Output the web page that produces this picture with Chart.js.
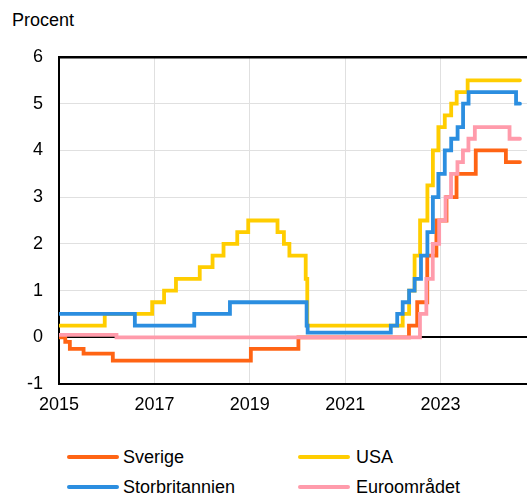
<!DOCTYPE html>
<html>
<head>
<meta charset="utf-8">
<script src="https://cdn.jsdelivr.net/npm/chart.js@4"></script>
<style>
  html, body { margin: 0; padding: 0; background: #fff; overflow: hidden; width: 527px; height: 493px; }
  body { position: relative; font-family: "Liberation Sans", Arial, sans-serif; color: #000; }
  #wrap { position: absolute; left: 0; top: 0; width: 536px; height: 430px; }
  .lbl { position: absolute; font-size: 18px; line-height: 18px; white-space: nowrap; }
  .swatch { position: absolute; width: 52px; height: 4px; border-radius: 2px; }
</style>
</head>
<body>
<div class="lbl" style="left:12px; top:11px;">Procent</div>
<div id="wrap"><canvas id="chart" width="536" height="430"></canvas></div>

<div class="swatch" style="left:67px; top:455px; background:#ff6414;"></div>
<div class="lbl" style="left:123px; top:448px;">Sverige</div>
<div class="swatch" style="left:298px; top:455px; background:#ffcd00;"></div>
<div class="lbl" style="left:356px; top:448px;">USA</div>
<div class="swatch" style="left:67px; top:485px; background:#2b8ee0;"></div>
<div class="lbl" style="left:123px; top:478px;">Storbritannien</div>
<div class="swatch" style="left:298px; top:485px; background:#ff9bab;"></div>
<div class="lbl" style="left:356px; top:478px;">Euroområdet</div>

<script>
// policy rates, date of change and new level (percent)
const sverigeDates = ["2015-01-01", "2015-02-18", "2015-03-25", "2015-07-08", "2016-02-17", "2019-01-09",
  "2020-01-08", "2022-05-04", "2022-07-06", "2022-09-21", "2022-11-30", "2023-02-15", "2023-05-03",
  "2023-09-27", "2024-05-15", "2024-08-31"];
const sverigeRates = [0, -0.1, -0.25, -0.35, -0.5, -0.25, 0, 0.25, 0.75, 1.75, 2.5, 3, 3.5, 4, 3.75, 3.75];

const usaDates = ["2015-01-01", "2015-12-17", "2016-12-15", "2017-03-16", "2017-06-15", "2017-12-14",
  "2018-03-22", "2018-06-14", "2018-09-27", "2018-12-20", "2019-08-01", "2019-09-19", "2019-10-31",
  "2020-03-04", "2020-03-16", "2022-03-17", "2022-05-05", "2022-06-16", "2022-07-28", "2022-09-22",
  "2022-11-03", "2022-12-15", "2023-02-02", "2023-03-23", "2023-05-04", "2023-07-27", "2024-08-31"];
const usaRates = [0.25, 0.5, 0.75, 1, 1.25, 1.5, 1.75, 2, 2.25, 2.5, 2.25, 2, 1.75, 1.25, 0.25,
  0.5, 1, 1.75, 2.5, 3.25, 4, 4.5, 4.75, 5, 5.25, 5.5, 5.5];

const ukDates = ["2015-01-01", "2016-08-04", "2017-11-02", "2018-08-02", "2020-03-11", "2020-03-19",
  "2021-12-16", "2022-02-03", "2022-03-17", "2022-05-05", "2022-06-16", "2022-08-04", "2022-09-22",
  "2022-11-03", "2022-12-15", "2023-02-02", "2023-03-23", "2023-05-11", "2023-06-22", "2023-08-03",
  "2024-08-01", "2024-08-31"];
const ukRates = [0.5, 0.25, 0.5, 0.75, 0.25, 0.1, 0.25, 0.5, 0.75, 1, 1.25, 1.75, 2.25, 3, 3.5,
  4, 4.25, 4.5, 5, 5.25, 5, 5];

const euroDates = ["2015-01-01", "2016-03-16", "2022-07-27", "2022-09-14", "2022-11-02", "2022-12-21",
  "2023-02-08", "2023-03-22", "2023-05-10", "2023-06-21", "2023-08-02", "2023-09-20", "2024-06-12",
  "2024-08-31"];
const euroRates = [0.05, 0, 0.5, 1.25, 2, 2.5, 3, 3.5, 3.75, 4, 4.25, 4.5, 4.25, 4.25];

const xTicks = [2015, 2017, 2019, 2021, 2023];

const toYear = (s) => {
  const d = new Date(s + "T00:00:00Z");
  const start = Date.UTC(d.getUTCFullYear(), 0, 1);
  const end = Date.UTC(d.getUTCFullYear() + 1, 0, 1);
  return d.getUTCFullYear() + (d - start) / (end - start);
};
const points = (dates, rates) => dates.map((d, i) => ({ x: toYear(d), y: rates[i] }));

const line = (label, dates, rates, color) => ({
  label: label,
  data: points(dates, rates),
  borderColor: color,
  backgroundColor: color,
  borderWidth: 3.8,
  borderCapStyle: "round",
  pointRadius: 0,
  stepped: true,
  fill: false,
});

const font = { family: "Liberation Sans", size: 18 };

new Chart(document.getElementById("chart"), {
  type: "line",
  data: {
    // first dataset is drawn on top
    datasets: [
      line("Euroområdet", euroDates, euroRates, "#ff9bab"),
      line("Storbritannien", ukDates, ukRates, "#2b8ee0"),
      line("Sverige", sverigeDates, sverigeRates, "#ff6414"),
      line("USA", usaDates, usaRates, "#ffcd00"),
    ],
  },
  options: {
    responsive: false,
    animation: { duration: 0 },
    layout: { padding: { top: 57, left: 0, right: 0, bottom: 0 } },
    plugins: { legend: { display: false }, tooltip: { enabled: false } },
    scales: {
      x: {
        type: "linear",
        min: 2015,
        max: 2025,
        afterFit: (scale) => { scale.height = 46; },
        afterBuildTicks: (scale) => { scale.ticks = xTicks.map((v) => ({ value: v })); },
        ticks: { font: font, color: "#000", padding: 10, maxRotation: 0, callback: (v) => String(v) },
        grid: { color: "#e0e0e0", lineWidth: 1, drawTicks: false },
        border: { color: "#000", width: 2 },
      },
      y: {
        min: -1,
        max: 6,
        afterFit: (scale) => { scale.width = 59; },
        ticks: { stepSize: 1, font: font, color: "#000", padding: 16 },
        grid: {
          drawTicks: false,
          color: (ctx) => (ctx.tick.value === 0 || ctx.tick.value === 6 || ctx.tick.value === -1 ? "#000" : "#e0e0e0"),
          lineWidth: (ctx) => (ctx.tick.value === 6 ? 2.5 : ctx.tick.value === 0 || ctx.tick.value === -1 ? 2 : 1),
        },
        border: { color: "#000", width: 2 },
      },
    },
  },
});
</script>
</body>
</html>
